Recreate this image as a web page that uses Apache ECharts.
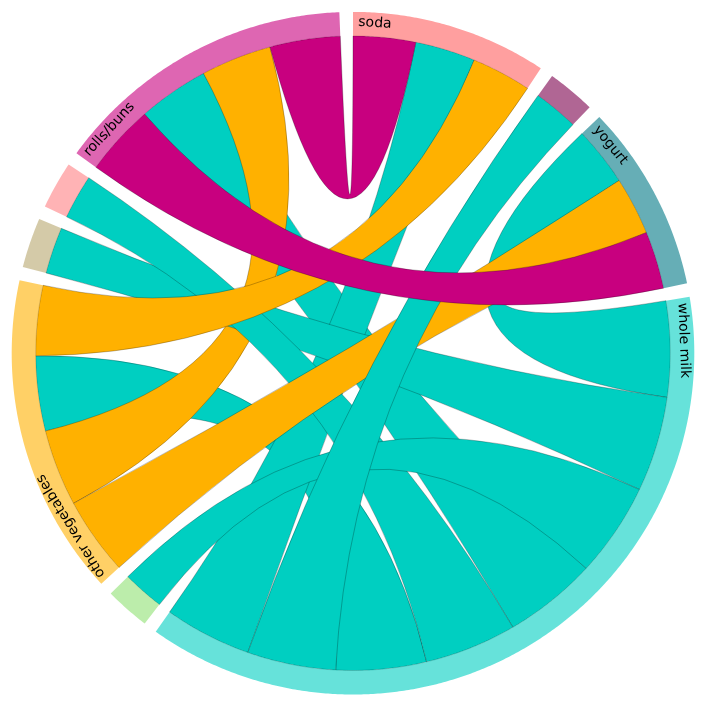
<!DOCTYPE html>
<html>
<head>
<meta charset="utf-8">
<script src="https://cdn.jsdelivr.net/npm/echarts@6.0.0/dist/echarts.min.js"></script>
<style>
  html, body { margin: 0; padding: 0; background: #ffffff; }
  #chart { width: 708px; height: 708px; }
</style>
</head>
<body>
<div id="chart"></div>
<script>
// ---------------- data ----------------
const groupNames = ['soda', 'tropical fruit', 'yogurt', 'whole milk', 'bottled water',
                    'other vegetables', 'root vegetables', 'shopping bags', 'rolls/buns'];
const groupColors = ['#ff5f5f', '#7b004d', '#007885', '#00cfc1', '#8fe173',
                     '#ffb100', '#b7a76e', '#ff8084', '#c8007f'];
// each row: the width at that group of its ribbon towards every group (same order as groupNames)
const sodaRow      = [0,     0,    0,    11.0,  0,    10.9, 0,    0,    11.4];
const tropicalRow  = [0,     0,    0,    8.2,   0,    0,    0,    0,    0];
const yogurtRow    = [0,     0,    0,    10.8,  0,    10.6, 0,    0,    10.5];
const wholeMilkRow = [15.9,  16.2, 17.5, 0,     17.2, 16.5, 17.4, 16.8, 17.0];
const waterRow     = [0,     0,    0,    7.6,   0,    0,    0,    0,    0];
const otherVegRow  = [12.8,  0,    14.2, 13.7,  0,    0,    0,    0,    14.0];
const rootVegRow   = [0,     0,    0,    8.5,   0,    0,    0,    0,    0];
const bagsRow      = [0,     0,    0,    8.1,   0,    0,    0,    0,    0];
const rollsRow     = [12.85, 0,    13.0, 12.95, 0,    12.9, 0,    0,    0];
const matrix = [sodaRow, tropicalRow, yogurtRow, wholeMilkRow, waterRow,
                otherVegRow, rootVegRow, bagsRow, rollsRow];

// ---------------- geometry / style constants ----------------
const OUTER = 341.3;
const INNER = OUTER - 24;
const CENTER = [353, 353.2];
const PAD = 0.04;             // radians between groups
const RING_OPACITY = 0.6;
const FONT = '14px "DejaVu Sans"';

// ---------------- chord layout (sorted subgroups / chords, descending) ----------------
function chordLayout(m, pad) {
  const n = m.length;
  const sums = m.map(r => r.reduce((a, b) => a + b, 0));
  const total = sums.reduce((a, b) => a + b, 0);
  const k = (2 * Math.PI - pad * n) / total;
  const sub = {};
  const groups = [];
  let x = 0;
  for (let i = 0; i < n; i++) {
    const order = [...Array(n).keys()].sort((a, b) => m[i][b] - m[i][a]);
    const x0 = x;
    for (const j of order) {
      const v = m[i][j];
      const a0 = x;
      x += v * k;
      sub[i + '-' + j] = { index: i, subindex: j, startAngle: a0, endAngle: x, value: v };
    }
    groups.push({ index: i, startAngle: x0, endAngle: x, value: sums[i] });
    x += pad;
  }
  const chords = [];
  for (let i = 0; i < n; i++) {
    for (let j = i; j < n; j++) {
      const s = sub[i + '-' + j], t = sub[j + '-' + i];
      if (s.value || t.value) {
        chords.push(s.value < t.value ? { source: t, target: s } : { source: s, target: t });
      }
    }
  }
  chords.sort((a, b) => (b.source.value + b.target.value) / 2 - (a.source.value + a.target.value) / 2);
  return { groups, chords };
}

const layout = chordLayout(matrix, PAD);
const groups = layout.groups;
const chords = layout.chords;
const deg = r => r * 180 / Math.PI;

// text measuring
const measureCtx = document.createElement('canvas').getContext('2d');
measureCtx.font = FONT;
const textWidth = s => measureCtx.measureText(s).width;

function arcAngles(a0, a1) {
  const n = Math.max(2, Math.ceil((a1 - a0) / 0.4));
  const out = [];
  for (let i = 0; i <= n; i++) out.push(a0 + (a1 - a0) * i / n);
  return out;
}
const f = p => p[0].toFixed(2) + ' ' + p[1].toFixed(2);

function renderRibbon(params, api) {
  const c = chords[params.dataIndex];
  const C = api.coord([0, 0]);
  const s = arcAngles(deg(c.source.startAngle), deg(c.source.endAngle)).map(a => api.coord([INNER, a]));
  const t = arcAngles(deg(c.target.startAngle), deg(c.target.endAngle)).map(a => api.coord([INNER, a]));
  let d = 'M' + f(s[0]);
  for (let i = 1; i < s.length; i++) d += ' L' + f(s[i]);
  d += ' Q' + f(C) + ' ' + f(t[0]);
  for (let i = 1; i < t.length; i++) d += ' L' + f(t[i]);
  d += ' Q' + f(C) + ' ' + f(s[0]) + ' Z';
  return {
    type: 'path',
    shape: { pathData: d },
    style: { fill: groupColors[c.source.index], stroke: '#000', lineWidth: 0.25 }
  };
}

function renderGroup(params, api) {
  const g = groups[params.dataIndex];
  const a0 = deg(g.startAngle), a1 = deg(g.endAngle);
  const angs = arcAngles(a0, a1);
  const pts = angs.map(a => api.coord([OUTER, a]))
    .concat(angs.slice().reverse().map(a => api.coord([INNER, a])));
  const children = [{
    type: 'polygon',
    shape: { points: pts },
    style: { fill: groupColors[g.index], opacity: RING_OPACITY }
  }];
  const name = groupNames[g.index];
  const w = textWidth(name);
  const span = g.endAngle - g.startAngle;
  const pathLen = (OUTER + INNER) * span + 2 * (OUTER - INNER);
  if (pathLen / 2 - 16 >= w) {
    const mid = g.startAngle + (6 + w / 2) / OUTER;
    const pos = api.coord([OUTER - 15 + 4.5, deg(mid)]);
    children.push({
      type: 'text',
      x: pos[0], y: pos[1],
      rotation: -mid,
      style: { text: name, font: FONT, fill: '#000', align: 'center', verticalAlign: 'middle' }
    });
  }
  return { type: 'group', children };
}

const chart = echarts.init(document.getElementById('chart'));
chart.setOption({
  animation: false,
  backgroundColor: '#ffffff',
  polar: { center: CENTER, radius: OUTER },
  angleAxis: { type: 'value', min: 0, max: 360, startAngle: 90, clockwise: true, show: false },
  radiusAxis: { type: 'value', min: 0, max: OUTER, show: false },
  series: [
    {
      type: 'custom',
      coordinateSystem: 'polar',
      silent: true,
      renderItem: renderRibbon,
      data: chords.map(c => [INNER, deg(c.source.startAngle)]),
      z: 1
    },
    {
      type: 'custom',
      coordinateSystem: 'polar',
      silent: true,
      renderItem: renderGroup,
      data: groups.map(g => [OUTER, deg(g.startAngle)]),
      z: 2
    }
  ]
});
</script>
</body>
</html>
